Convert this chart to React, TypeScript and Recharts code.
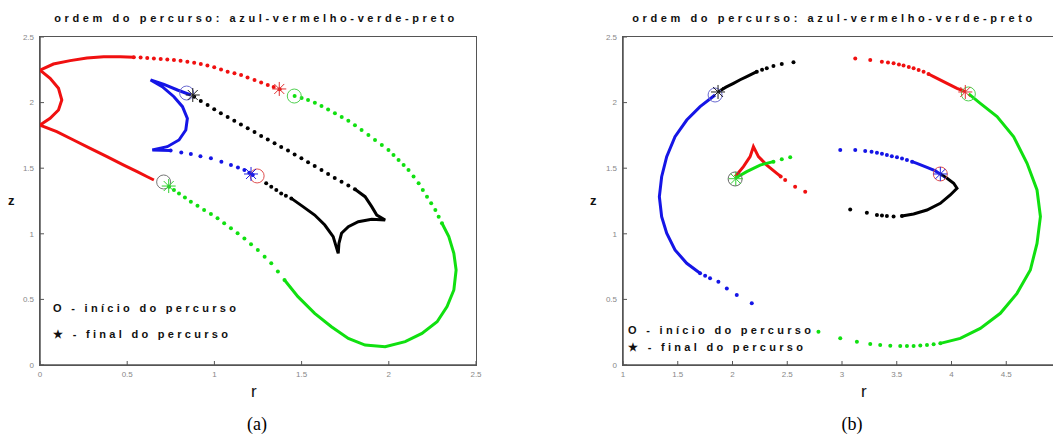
import React from "react";
import { Scatter, ScatterChart, XAxis, YAxis } from "recharts";

type P = [number, number];

const xTicksA = [0, 0.5, 1, 1.5, 2, 2.5];
const xTicksB = [1, 1.5, 2, 2.5, 3, 3.5, 4, 4.5, 5];
const zTicks = [0, 0.5, 1, 1.5, 2, 2.5];

// ---- panel (a): [r, z] ----
const aBlueSolid: P[] = [
  [0.865, 2.058], [0.788, 2.096], [0.711, 2.139], [0.634, 2.172], [0.701, 2.121], [0.768, 2.045],
  [0.817, 1.969], [0.845, 1.88], [0.836, 1.791], [0.797, 1.715], [0.73, 1.664], [0.644, 1.639],
  [0.749, 1.634],
];
const aBlueDots: P[] = [
  [0.749, 1.634], [0.81, 1.62], [0.865, 1.608], [0.92, 1.592], [0.98, 1.575], [1.04, 1.55],
  [1.095, 1.524], [1.135, 1.505], [1.172, 1.486], [1.2, 1.465], [1.22, 1.448],
];
const aRedDots: P[] = [
  [1.374, 2.101], [1.34, 2.118], [1.306, 2.134], [1.268, 2.153], [1.23, 2.172], [1.19, 2.192],
  [1.153, 2.21], [1.115, 2.224], [1.076, 2.236], [1.038, 2.253], [0.999, 2.269], [0.96, 2.282],
  [0.922, 2.294], [0.884, 2.304], [0.845, 2.312], [0.806, 2.319], [0.768, 2.325], [0.73, 2.329],
  [0.692, 2.332], [0.653, 2.336], [0.615, 2.34], [0.577, 2.343], [0.538, 2.345],
];
const aRedSolid: P[] = [
  [0.538, 2.345], [0.461, 2.35], [0.365, 2.35], [0.269, 2.34], [0.173, 2.32], [0.077, 2.294],
  [0.0, 2.248], [0.058, 2.185], [0.106, 2.109], [0.125, 2.02], [0.106, 1.944], [0.058, 1.88],
  [0.0, 1.829], [0.096, 1.778], [0.192, 1.715], [0.288, 1.651], [0.384, 1.588], [0.48, 1.524],
  [0.557, 1.474], [0.615, 1.435], [0.653, 1.41],
];
const aGreenDotsTop: P[] = [
  [1.46, 2.05], [1.5, 2.036], [1.537, 2.02], [1.576, 1.998], [1.614, 1.974], [1.652, 1.947],
  [1.691, 1.918], [1.73, 1.89], [1.768, 1.862], [1.806, 1.828], [1.844, 1.791], [1.883, 1.753],
  [1.921, 1.715], [1.96, 1.677], [1.998, 1.639], [2.027, 1.601], [2.056, 1.563], [2.085, 1.525],
  [2.113, 1.486], [2.142, 1.436], [2.171, 1.385], [2.195, 1.334], [2.219, 1.283], [2.243, 1.232],
  [2.267, 1.181], [2.286, 1.13], [2.305, 1.08],
];
const aGreenSolid: P[] = [
  [2.305, 1.08], [2.344, 0.978], [2.373, 0.851], [2.386, 0.724], [2.373, 0.572], [2.334, 0.445],
  [2.277, 0.33], [2.19, 0.241], [2.094, 0.178], [1.979, 0.14], [1.864, 0.152], [1.768, 0.203],
  [1.671, 0.292], [1.575, 0.394], [1.479, 0.521], [1.402, 0.648],
];
const aGreenDotsLow: P[] = [
  [1.402, 0.648], [1.364, 0.712], [1.326, 0.775], [1.288, 0.826], [1.249, 0.877], [1.21, 0.921],
  [1.172, 0.965], [1.133, 1.004], [1.095, 1.042], [1.056, 1.08], [1.018, 1.118], [0.98, 1.15],
  [0.941, 1.181], [0.903, 1.213], [0.865, 1.245], [0.831, 1.276], [0.797, 1.308], [0.768, 1.333],
  [0.74, 1.359],
];
const aBlackDots: P[] = [
  [0.884, 2.045], [0.922, 2.013], [0.961, 1.982], [0.999, 1.95], [1.037, 1.918], [1.076, 1.89],
  [1.114, 1.862], [1.152, 1.833], [1.191, 1.804], [1.23, 1.775], [1.268, 1.745], [1.306, 1.718],
  [1.345, 1.69], [1.383, 1.662], [1.422, 1.634], [1.46, 1.605], [1.499, 1.575], [1.537, 1.546],
  [1.575, 1.517], [1.614, 1.487], [1.652, 1.456], [1.69, 1.426], [1.729, 1.397], [1.768, 1.368],
  [1.806, 1.339],
];
const aBlackSolid: P[] = [
  [1.806, 1.339], [1.864, 1.283], [1.902, 1.207], [1.931, 1.143], [1.979, 1.105], [1.902, 1.11],
  [1.825, 1.092], [1.768, 1.054], [1.729, 1.004], [1.714, 0.927], [1.71, 0.851], [1.681, 0.978],
  [1.633, 1.067], [1.575, 1.143], [1.508, 1.207], [1.441, 1.27],
];
const aBlackDotsEnd: P[] = [[1.441, 1.27], [1.41, 1.29], [1.383, 1.308], [1.355, 1.334], [1.326, 1.359], [1.297, 1.385]];

const aStarts: { p: P; c: string }[] = [
  { p: [0.841, 2.073], c: "#6a6ad0" },
  { p: [1.245, 1.441], c: "#e05050" },
  { p: [1.458, 2.05], c: "#50d050" },
  { p: [0.709, 1.395], c: "#777777" },
];
const aEnds: { p: P; c: string }[] = [
  { p: [1.21, 1.456], c: "#2020e0" },
  { p: [1.372, 2.104], c: "#e03030" },
  { p: [0.738, 1.364], c: "#30d030" },
  { p: [0.876, 2.058], c: "#222222" },
];

// ---- panel (b): [r, z] ----
const bBlueSolid: P[] = [
  [1.841, 2.058], [1.704, 1.969], [1.582, 1.867], [1.475, 1.74], [1.399, 1.588], [1.353, 1.435],
  [1.332, 1.283], [1.353, 1.131], [1.399, 1.004], [1.475, 0.877], [1.582, 0.775], [1.704, 0.699],
];
const bBlueDots: P[] = [
  [1.704, 0.699], [1.75, 0.68], [1.795, 0.661], [1.871, 0.635], [1.948, 0.584], [2.039, 0.534], [2.176, 0.47],
];
const bBlueDots2: P[] = [
  [2.984, 1.639], [3.121, 1.639], [3.212, 1.631], [3.27, 1.625], [3.319, 1.618], [3.365, 1.61],
  [3.41, 1.601], [3.455, 1.592], [3.502, 1.583], [3.548, 1.573], [3.593, 1.563], [3.64, 1.55],
];
const bBlueSolid2: P[] = [[3.64, 1.55], [3.684, 1.537], [3.776, 1.507], [3.837, 1.486], [3.898, 1.456]];
const bRedDots: P[] = [
  [3.121, 2.337], [3.258, 2.325], [3.364, 2.312], [3.42, 2.305], [3.471, 2.299], [3.52, 2.29],
  [3.562, 2.282], [3.61, 2.272], [3.654, 2.261], [3.7, 2.249], [3.745, 2.236], [3.79, 2.218],
];
const bRedSolid: P[] = [[3.79, 2.218], [3.837, 2.198], [3.959, 2.147], [4.05, 2.109], [4.126, 2.083]];
const bRedSolid2: P[] = [
  [2.024, 1.435], [2.1, 1.512], [2.161, 1.588], [2.191, 1.664], [2.237, 1.588], [2.313, 1.524],
  [2.405, 1.461], [2.44, 1.437],
];
const bRedDots2: P[] = [[2.44, 1.437], [2.481, 1.41], [2.572, 1.359], [2.664, 1.321]];
const bGreenSolid: P[] = [
  [4.157, 2.066], [4.263, 1.994], [4.416, 1.893], [4.568, 1.74], [4.69, 1.537], [4.781, 1.334],
  [4.812, 1.131], [4.781, 0.927], [4.72, 0.724], [4.598, 0.546], [4.446, 0.394], [4.263, 0.279],
  [4.08, 0.203], [3.898, 0.165],
];
const bGreenDots: P[] = [
  [3.898, 0.165], [3.837, 0.158], [3.776, 0.152], [3.715, 0.148], [3.654, 0.145], [3.593, 0.145],
  [3.532, 0.145], [3.441, 0.147], [3.349, 0.152], [3.258, 0.16], [3.136, 0.178], [2.984, 0.203], [2.785, 0.254],
];
const bGreenSolid2: P[] = [[2.024, 1.423], [2.13, 1.474], [2.252, 1.524], [2.374, 1.55]];
const bGreenDots2: P[] = [[2.374, 1.55], [2.45, 1.568], [2.527, 1.583]];
const bBlackSolid: P[] = [[1.871, 2.083], [1.94, 2.118], [2.009, 2.147], [2.07, 2.174], [2.13, 2.198], [2.222, 2.236]];
const bBlackDots: P[] = [[2.222, 2.236], [2.27, 2.25], [2.313, 2.261], [2.374, 2.279], [2.45, 2.294], [2.557, 2.307]];
const bBlackDots2: P[] = [
  [3.075, 1.186], [3.227, 1.161], [3.319, 1.143], [3.365, 1.14], [3.41, 1.136], [3.471, 1.131], [3.547, 1.136],
];
const bBlackSolid2: P[] = [
  [3.547, 1.136], [3.654, 1.151], [3.776, 1.181], [3.898, 1.232], [3.989, 1.296], [4.05, 1.347],
  [4.02, 1.385], [3.959, 1.423], [3.898, 1.456],
];

const bStarts: { p: P; c: string }[] = [
  { p: [1.841, 2.058], c: "#6a6ad0" },
  { p: [3.898, 1.456], c: "#e05050" },
  { p: [4.154, 2.066], c: "#50d050" },
  { p: [2.024, 1.418], c: "#666666" },
];
const bEnds: { p: P; c: string }[] = [
  { p: [3.898, 1.456], c: "#2020e0" },
  { p: [4.126, 2.081], c: "#e03030" },
  { p: [2.03, 1.42], c: "#30d030" },
  { p: [1.868, 2.081], c: "#222222" },
];

const BLUE = "#1515e6";
const RED = "#f01010";
const GREEN = "#10e010";
const BLACK = "#000000";

const toPts = (a: P[]) => a.map(([r, z]) => ({ r, z }));
const none = () => <g />;

const solid = (key: string, data: P[], color: string) => (
  <Scatter key={key} data={toPts(data)} line={{ stroke: color, strokeWidth: 3 }} lineType="joint" shape={none} isAnimationActive={false} />
);
const dots = (key: string, data: P[], color: string) => (
  <Scatter key={key} data={toPts(data)} shape={(p: any) => <circle cx={p.cx} cy={p.cy} r={2} fill={color} />} isAnimationActive={false} />
);
const starts = (key: string, list: { p: P; c: string }[]) =>
  list.map((m, i) => (
    <Scatter key={key + i} data={toPts([m.p])} shape={(p: any) => <circle cx={p.cx} cy={p.cy} r={7} fill="none" stroke={m.c} strokeWidth={1} />} isAnimationActive={false} />
  ));
const ends = (key: string, list: { p: P; c: string }[]) =>
  list.map((m, i) => (
    <Scatter
      key={key + i}
      data={toPts([m.p])}
      shape={(p: any) => (
        <g stroke={m.c} strokeWidth={1}>
          <line x1={p.cx - 7} y1={p.cy} x2={p.cx + 7} y2={p.cy} />
          <line x1={p.cx} y1={p.cy - 7} x2={p.cx} y2={p.cy + 7} />
          <line x1={p.cx - 5} y1={p.cy - 5} x2={p.cx + 5} y2={p.cy + 5} />
          <line x1={p.cx - 5} y1={p.cy + 5} x2={p.cx + 5} y2={p.cy - 5} />
        </g>
      )}
      isAnimationActive={false}
    />
  ));

const FRAME = "#555555";
const tickStyle = { fontSize: 8, fill: "#888", fontFamily: "Liberation Sans, Arial, sans-serif" };

const textBase: React.CSSProperties = {
  position: "absolute",
  whiteSpace: "nowrap",
  fontFamily: "Liberation Sans, Arial, sans-serif",
  fontWeight: "bold",
  fontSize: 11,
  letterSpacing: 3.3,
  color: "#111",
  lineHeight: "12px",
};

function Panel({ left, width, margin, xDomain, xTicks, xFmt, children }: any) {
  return (
    <div style={{ position: "absolute", left, top: 0 }}>
      <ScatterChart width={width} height={442} margin={margin}>
        <XAxis dataKey="r" type="number" domain={xDomain} ticks={xTicks} allowDataOverflow axisLine={{ stroke: FRAME, strokeWidth: 1.5 }} tickLine={{ stroke: FRAME }} tickSize={-4} tickMargin={10} tick={tickStyle} tickFormatter={xFmt} height={20} />
        <YAxis dataKey="z" type="number" domain={[0, 2.5]} ticks={zTicks} allowDataOverflow axisLine={{ stroke: FRAME, strokeWidth: 1.5 }} tickLine={{ stroke: FRAME }} tickSize={-4} tickMargin={10} tick={tickStyle} width={30} />
        {children}
      </ScatterChart>
    </div>
  );
}

const fmtB = (v: number) => (v === 5 ? "" : String(v));

export default function App() {
  const box = (left: number, width: number) => (
    <div style={{ position: "absolute", left, top: 36, width, height: 330, boxSizing: "border-box", borderStyle: "solid", borderColor: FRAME, borderWidth: 1.5, zIndex: 5 }} />
  );
  return (
    <div style={{ position: "fixed", left: 0, top: 0, width: 1053, height: 442, overflow: "hidden", background: "#fff" }}>
      <Panel left={0} width={520} margin={{ top: 37, right: 44, bottom: 57, left: 10 }} xDomain={[0, 2.5]} xTicks={xTicksA}>
        {solid("abs", aBlueSolid, BLUE)}
        {dots("abd", aBlueDots, BLUE)}
        {dots("ard", aRedDots, RED)}
        {solid("ars", aRedSolid, RED)}
        {dots("agd", aGreenDotsTop, GREEN)}
        {solid("ags", aGreenSolid, GREEN)}
        {dots("agl", aGreenDotsLow, GREEN)}
        {dots("akd", aBlackDots, BLACK)}
        {solid("aks", aBlackSolid, BLACK)}
        {dots("ake", aBlackDotsEnd, BLACK)}
        {starts("as", aStarts)}
        {ends("ae", aEnds)}
      </Panel>
      <Panel left={530} width={540} margin={{ top: 37, right: 9, bottom: 57, left: 63 }} xDomain={[1, 5]} xTicks={xTicksB} xFmt={fmtB}>
        {solid("bbs", bBlueSolid, BLUE)}
        {dots("bbd", bBlueDots, BLUE)}
        {dots("bbd2", bBlueDots2, BLUE)}
        {solid("bbs2", bBlueSolid2, BLUE)}
        {dots("brd", bRedDots, RED)}
        {solid("brs", bRedSolid, RED)}
        {solid("brs2", bRedSolid2, RED)}
        {dots("brd2", bRedDots2, RED)}
        {solid("bgs", bGreenSolid, GREEN)}
        {dots("bgd", bGreenDots, GREEN)}
        {solid("bgs2", bGreenSolid2, GREEN)}
        {dots("bgd2", bGreenDots2, GREEN)}
        {solid("bks", bBlackSolid, BLACK)}
        {dots("bkd", bBlackDots, BLACK)}
        {dots("bkd2", bBlackDots2, BLACK)}
        {solid("bks2", bBlackSolid2, BLACK)}
        {starts("bs", bStarts)}
        {ends("be", bEnds)}
      </Panel>
      {/* plot boxes drawn over the charts */}
      {box(39, 438)}
      {box(622, 441)}

      <div style={{ ...textBase, left: 256, top: 12, transform: "translateX(-50%)", letterSpacing: 3.6 }}>ordem do percurso: azul-vermelho-verde-preto</div>
      <div style={{ ...textBase, left: 834, top: 12, transform: "translateX(-50%)", letterSpacing: 3.6 }}>ordem do percurso: azul-vermelho-verde-preto</div>

      <div style={{ ...textBase, left: 53, top: 302 }}>O - início do percurso</div>
      <div style={{ ...textBase, left: 53, top: 328 }}>★ - final do percurso</div>
      <div style={{ ...textBase, left: 628, top: 324 }}>O - início do percurso</div>
      <div style={{ ...textBase, left: 628, top: 341 }}>★ - final do percurso</div>

      <div style={{ ...textBase, left: 8, top: 195, fontSize: 13, letterSpacing: 0 }}>z</div>
      <div style={{ ...textBase, left: 590, top: 195, fontSize: 13, letterSpacing: 0 }}>z</div>
      <div style={{ ...textBase, left: 251, top: 383, fontSize: 17, fontWeight: "normal", letterSpacing: 0, lineHeight: "18px" }}>r</div>
      <div style={{ ...textBase, left: 861, top: 383, fontSize: 17, fontWeight: "normal", letterSpacing: 0, lineHeight: "18px" }}>r</div>

      <div style={{ position: "absolute", left: 257, top: 414, transform: "translateX(-50%)", fontFamily: "Liberation Serif, Times New Roman, serif", fontSize: 18, color: "#000" }}>(a)</div>
      <div style={{ position: "absolute", left: 852, top: 414, transform: "translateX(-50%)", fontFamily: "Liberation Serif, Times New Roman, serif", fontSize: 18, color: "#000" }}>(b)</div>
    </div>
  );
}
